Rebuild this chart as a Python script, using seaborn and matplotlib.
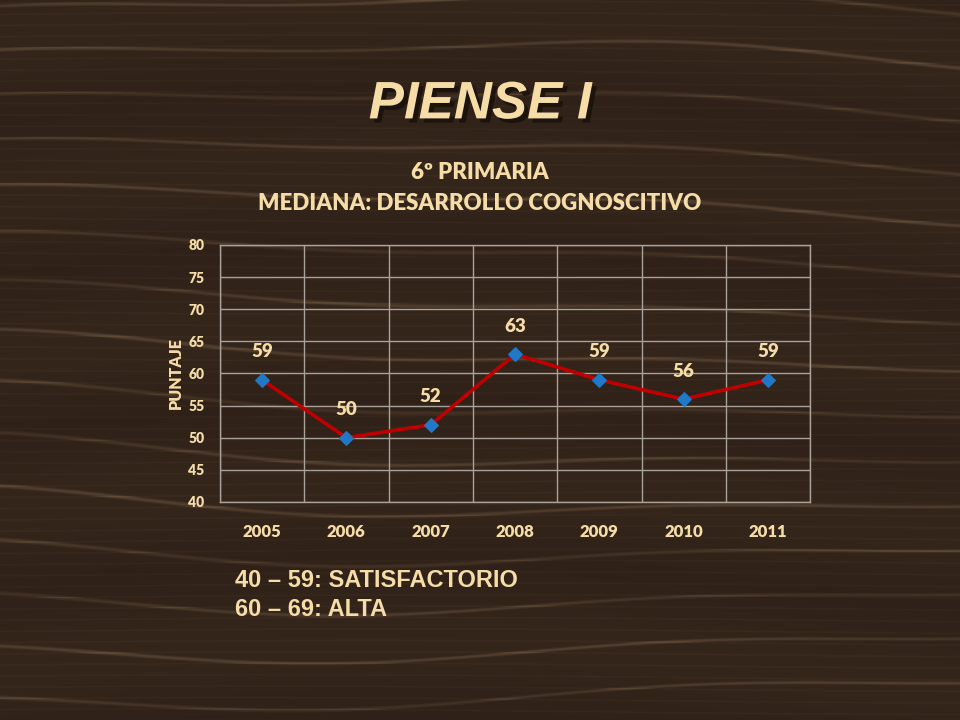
import numpy as np
import pandas as pd
import matplotlib
matplotlib.use('Agg')
import matplotlib.pyplot as plt
import matplotlib.patheffects as pe
from matplotlib.colors import LinearSegmentedColormap
import seaborn as sns

# chart data
years = ['2005', '2006', '2007', '2008', '2009', '2010', '2011']
puntaje = [59, 50, 52, 63, 59, 56, 59]
y_ticks = [40, 45, 50, 55, 60, 65, 70, 75, 80]

df = pd.DataFrame({'year': years, 'puntaje': puntaje})

sns.set_style('white')
plt.rcParams['font.family'] = ['Lato', 'DejaVu Sans']

cream = '#F6DDA8'
fig = plt.figure(figsize=(9.6, 7.2), dpi=100)

# wood-like background (decoration only)
bg = fig.add_axes([0, 0, 1, 1], zorder=-10)
yy, xx = np.mgrid[0:720, 0:960].astype(float)
phase = yy * 0.13 + 2.2 * np.sin(xx * 0.003 + yy * 0.006) + 0.8 * np.sin(xx * 0.009 + 1.7)
thin = np.clip(np.sin(phase) - 0.94, 0, None) / 0.06
phase2 = yy * 0.55 + 1.5 * np.sin(xx * 0.004 + yy * 0.01)
fine = np.clip(np.sin(phase2) - 0.8, 0, None) / 0.2
tex = 0.3 + 0.06 * np.sin(yy * 0.04 + 1.2 * np.sin(xx * 0.004)) + 0.35 * thin + 0.12 * fine
wood = LinearSegmentedColormap.from_list('wood', ['#2c1f16', '#3d2c20', '#6e5a46'])
bg.imshow(tex, cmap=wood, vmin=0.15, vmax=0.95, aspect='auto')
bg.axis('off')

ax = fig.add_axes([0.229, 0.3028, 0.615, 0.357])
ax.patch.set_alpha(0)
sns.lineplot(data=df, x='year', y='puntaje', ax=ax, color='#C00000', linewidth=2.6,
             marker='D', markersize=7, markerfacecolor='#1F78C8', markeredgecolor='#1F78C8',
             zorder=3)

for i, v in enumerate(puntaje):
    ax.annotate(str(v), (i, v), xytext=(0, 14), textcoords='offset points',
                ha='center', va='bottom', color=cream, fontsize=13.5, fontweight='heavy')

ax.set_ylim(40, 80)
ax.set_yticks(y_ticks)
ax.set_xlim(-0.5, len(years) - 0.5)
ax.set_xticks(range(len(years)))
ax.set_xticks(np.arange(-0.5, len(years)), minor=True)
ax.grid(axis='y', which='major', color='#A9A29B', linewidth=1)
ax.grid(axis='x', which='minor', color='#A9A29B', linewidth=1)
ax.grid(axis='x', which='major', visible=False)
ax.tick_params(axis='both', which='both', length=0)
ax.tick_params(axis='y', pad=11, labelsize=10, labelcolor=cream)
ax.tick_params(axis='x', pad=16, labelsize=12, labelcolor=cream)
for lbl in ax.get_xticklabels() + ax.get_yticklabels():
    lbl.set_fontweight('heavy')
for s in ax.spines.values():
    s.set_color('#A9A29B')
    s.set_linewidth(1)
ax.set_xlabel('')
ax.set_ylabel('PUNTAJE', color=cream, fontsize=11.5, fontweight='heavy', labelpad=3)

fig.text(0.5, 0.855, 'PIENSE I', ha='center', va='center', color=cream,
         fontsize=38, fontweight='bold', style='italic', family=['Liberation Sans', 'DejaVu Sans'],
         path_effects=[pe.withSimplePatchShadow(offset=(3, -3), shadow_rgbFace='#1a120c', alpha=0.9)])
fig.text(0.5, 0.761, '6º PRIMARIA', ha='center', va='center', color=cream,
         fontsize=16, fontweight='heavy')
fig.text(0.5, 0.718, 'MEDIANA: DESARROLLO COGNOSCITIVO', ha='center', va='center', color=cream,
         fontsize=16, fontweight='heavy')

fig.text(0.245, 0.194, '40 – 59: SATISFACTORIO', ha='left', va='center', color=cream,
         fontsize=17, fontweight='bold', family=['Liberation Sans', 'DejaVu Sans'])
fig.text(0.245, 0.153, '60 – 69: ALTA', ha='left', va='center', color=cream,
         fontsize=17, fontweight='bold', family=['Liberation Sans', 'DejaVu Sans'])

fig.savefig('out.png', dpi=100)
